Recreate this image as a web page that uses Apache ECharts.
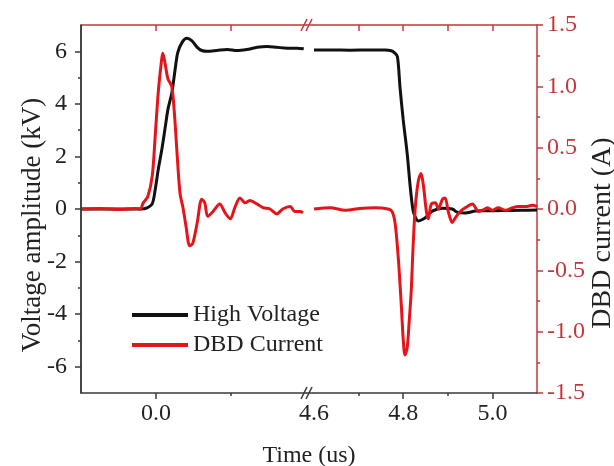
<!DOCTYPE html>
<html>
<head>
<meta charset="utf-8">
<script src="https://cdn.jsdelivr.net/npm/echarts@6.0.0/dist/echarts.min.js"></script>
<style>
html,body{margin:0;padding:0;background:#fff;}
#chart{width:614px;height:466px;}
</style>
</head>
<body>
<div id="chart"></div>
<script>
// ---- Data (time in us, voltage in kV, current in A) ----
// Left segment (before the axis break)
var hvTimeA = [-0.1, -0.06, -0.03, -0.02, -0.012, -0.005, -0.001, 0.003, 0.008, 0.012, 0.016, 0.021, 0.025, 0.029, 0.035, 0.041, 0.048, 0.055, 0.061, 0.068, 0.081, 0.095, 0.108, 0.121, 0.135, 0.148, 0.161, 0.175, 0.188, 0.197];
var hvValA  = [0, 0, 0, 0, 0.04, 0.2, 0.75, 1.5, 2.3, 3.05, 3.8, 4.4, 5.2, 5.95, 6.35, 6.5, 6.4, 6.15, 6.03, 6.0, 6.03, 6.07, 6.03, 6.07, 6.15, 6.18, 6.15, 6.12, 6.12, 6.1];
var curTimeA = [-0.1, -0.075, -0.048, -0.028, -0.021, -0.017, -0.011, -0.005, -0.001, 0.003, 0.007, 0.009, 0.012, 0.016, 0.021, 0.025, 0.028, 0.032, 0.036, 0.040, 0.045, 0.049, 0.055, 0.061, 0.065, 0.069, 0.076, 0.085, 0.092, 0.099, 0.105, 0.112, 0.119, 0.125, 0.135, 0.143, 0.152, 0.161, 0.169, 0.179, 0.185, 0.192, 0.196];
var curValA  = [0, 0.005, -0.005, 0.005, 0.0, 0.05, 0.1, 0.27, 0.6, 0.95, 1.19, 1.27, 1.19, 1.06, 1.0, 0.74, 0.46, 0.13, 0.01, -0.14, -0.3, -0.28, -0.11, 0.08, 0.05, -0.06, -0.02, 0.04, -0.03, -0.08, 0.01, 0.09, 0.05, 0.07, 0.04, 0.01, 0.0, -0.04, 0.0, 0.02, -0.02, -0.02, -0.03];
// Right segment (after the axis break)
var hvTimeB = [4.6, 4.636, 4.681, 4.726, 4.760, 4.773, 4.780, 4.787, 4.793, 4.800, 4.809, 4.816, 4.822, 4.827, 4.834, 4.843, 4.852, 4.865, 4.888, 4.910, 4.921, 4.939, 4.962, 4.984, 5.022, 5.063, 5.1];
var hvValB  = [6.05, 6.05, 6.04, 6.05, 6.05, 6.02, 5.95, 5.8, 4.6, 3.4, 2.1, 0.8, -0.05, -0.3, -0.46, -0.4, -0.3, -0.08, 0.03, 0.0, -0.12, -0.15, -0.08, -0.07, -0.06, -0.05, -0.04];
var curTimeB = [4.6, 4.636, 4.670, 4.703, 4.737, 4.766, 4.775, 4.782, 4.789, 4.796, 4.800, 4.804, 4.809, 4.813, 4.818, 4.822, 4.827, 4.834, 4.840, 4.845, 4.852, 4.856, 4.863, 4.872, 4.879, 4.888, 4.894, 4.901, 4.910, 4.917, 4.928, 4.939, 4.955, 4.969, 4.978, 4.989, 5.0, 5.013, 5.029, 5.045, 5.058, 5.074, 5.090, 5.1];
var curValB  = [0, 0.01, -0.01, 0.005, 0.01, 0.0, -0.02, -0.12, -0.4, -0.8, -1.06, -1.19, -1.13, -0.94, -0.67, -0.32, 0.01, 0.23, 0.29, 0.2, -0.02, -0.08, 0.04, 0.05, 0.0, 0.08, 0.09, -0.02, -0.11, -0.07, -0.02, 0.01, 0.04, -0.02, -0.01, 0.01, -0.01, 0.01, -0.01, 0.01, 0.02, 0.02, 0.03, 0.02];

// Axis ticks / labels
var xLabelsA = [0.0];
var xMinorA = [0.1];
var xTopA = [0.0, 0.1];
var xLabelsB = [4.6, 4.8, 5.0];
var xMajorB = [4.8, 5.0];
var xMinorB = [4.7, 4.9];
var xTopB = [4.7, 4.8, 4.9, 5.0];
var yVLabels = [-6, -4, -2, 0, 2, 4, 6];
var yVMinor = [-5, -3, -1, 1, 3, 5];

var seriesNames = ['High Voltage', 'DBD Current'];

function zip(a, b) { return a.map(function (t, i) { return [t, b[i]]; }); }

var FONT = 'Liberation Serif';
var RED = '#e3151b';
var AXRED = '#c0393b';
var DARK = '#3a3a3a';

var chart = echarts.init(document.getElementById('chart'), null, {renderer: 'canvas'});

function baseX(grid, min, max, pos) {
  return {
    type: 'value', gridIndex: grid, min: min, max: max, interval: 0.1, position: pos,
    splitLine: {show: false}
  };
}
function line(color, show) {
  return {show: show !== false, onZero: false, lineStyle: {color: color, width: 1.5}};
}

var option = {
  animation: false,
  backgroundColor: '#fff',
  grid: [
    {left: 81, top: 25, width: 225, height: 368},
    {left: 314, top: 25, width: 223, height: 368}
  ],
  xAxis: [
    Object.assign(baseX(0, -0.1, 0.2, 'bottom'), {
      axisLine: line(DARK),
      axisTick: {customValues: xLabelsA, length: 6, lineStyle: {color: DARK, width: 1.5}},
      axisLabel: {customValues: xLabelsA, formatter: function (v) { return v.toFixed(1); }, fontFamily: FONT, fontSize: 24, color: '#222', margin: 9}
    }),
    Object.assign(baseX(0, -0.1, 0.2, 'bottom'), {
      axisLine: line(DARK, false),
      axisTick: {customValues: xMinorA, length: 3, lineStyle: {color: DARK, width: 1.5}},
      axisLabel: {show: false}
    }),
    Object.assign(baseX(0, -0.1, 0.2, 'top'), {
      axisLine: line(AXRED),
      axisTick: {customValues: xTopA, inside: true, length: 6, lineStyle: {color: AXRED, width: 1.5}},
      axisLabel: {show: false}
    }),
    Object.assign(baseX(1, 4.6, 5.1, 'bottom'), {
      axisLine: line(DARK),
      axisTick: {customValues: xMajorB, length: 6, lineStyle: {color: DARK, width: 1.5}},
      axisLabel: {customValues: xLabelsB, formatter: function (v) { return v.toFixed(1); }, fontFamily: FONT, fontSize: 24, color: '#222', margin: 9}
    }),
    Object.assign(baseX(1, 4.6, 5.1, 'bottom'), {
      axisLine: line(DARK, false),
      axisTick: {customValues: xMinorB, length: 3, lineStyle: {color: DARK, width: 1.5}},
      axisLabel: {show: false}
    }),
    Object.assign(baseX(1, 4.6, 5.1, 'top'), {
      axisLine: line(AXRED),
      axisTick: {customValues: xTopB, inside: true, length: 6, lineStyle: {color: AXRED, width: 1.5}},
      axisLabel: {show: false}
    })
  ],
  yAxis: [
    {type: 'value', gridIndex: 0, position: 'left', min: -7, max: 7, interval: 1, z: 5,
      splitLine: {show: false},
      axisLine: {show: true, onZero: false, lineStyle: {color: DARK, width: 1.5}},
      axisTick: {show: true, customValues: yVLabels, length: 6, lineStyle: {color: DARK, width: 1.5}},
      axisLabel: {customValues: yVLabels, fontFamily: FONT, fontSize: 24, color: '#222', margin: 14}
    },
    {type: 'value', gridIndex: 0, position: 'left', min: -7, max: 7, interval: 1,
      splitLine: {show: false},
      axisLine: line(DARK, false),
      axisTick: {show: true, customValues: yVMinor, length: 3, lineStyle: {color: DARK, width: 1.5}},
      axisLabel: {show: false}
    },
    {type: 'value', gridIndex: 0, position: 'right', min: -1.5, max: 1.5, show: false,
      axisLine: {show: false, onZero: false}, axisTick: {show: false}, axisLabel: {show: false}, splitLine: {show: false}},
    {type: 'value', gridIndex: 1, position: 'left', min: -7, max: 7, show: false,
      axisLine: {show: false, onZero: false}, axisTick: {show: false}, axisLabel: {show: false}, splitLine: {show: false}},
    {type: 'value', gridIndex: 1, position: 'right', min: -1.5, max: 1.5, interval: 0.5,
      splitLine: {show: false},
      axisLine: line(AXRED),
      axisTick: {show: true, length: 6, lineStyle: {color: AXRED, width: 1.5}},
      minorTick: {show: true, splitNumber: 2, length: 3, lineStyle: {color: AXRED, width: 1.5}},
      axisLabel: {formatter: function (v) { return v.toFixed(1); }, fontFamily: FONT, fontSize: 24, color: AXRED, margin: 10}
    }
  ],
  legend: {
    data: seriesNames.map(function (n) { return {name: n, icon: 'rect'}; }),
    orient: 'vertical', left: 132, top: 303, padding: 0,
    itemWidth: 56, itemHeight: 4, itemGap: 6,
    textStyle: {fontFamily: FONT, fontSize: 24, color: '#222'}
  },
  series: [
    {name: seriesNames[0], type: 'line', xAxisIndex: 0, yAxisIndex: 0, data: zip(hvTimeA, hvValA),
      showSymbol: false, symbol: 'none', smooth: 0.3, color: '#111', lineStyle: {color: '#111', width: 3}},
    {name: seriesNames[0], type: 'line', xAxisIndex: 3, yAxisIndex: 3, data: zip(hvTimeB, hvValB),
      showSymbol: false, symbol: 'none', smooth: 0.3, color: '#111', lineStyle: {color: '#111', width: 3}},
    {name: seriesNames[1], type: 'line', xAxisIndex: 0, yAxisIndex: 2, data: zip(curTimeA, curValA),
      showSymbol: false, symbol: 'none', smooth: 0.3, color: RED, lineStyle: {color: RED, width: 3}},
    {name: seriesNames[1], type: 'line', xAxisIndex: 3, yAxisIndex: 4, data: zip(curTimeB, curValB),
      showSymbol: false, symbol: 'none', smooth: 0.3, color: RED, lineStyle: {color: RED, width: 3}}
  ],
  graphic: [
    // left frame line kept dark on top of everything
    {type: 'line', z: 100, shape: {x1: 81, y1: 25, x2: 81, y2: 393}, style: {stroke: DARK, lineWidth: 1.5}},
    {type: 'line', shape: {x1: 306, y1: 393, x2: 314, y2: 393}, style: {stroke: DARK, lineWidth: 1.5}},
    {type: 'line', shape: {x1: 306, y1: 25, x2: 314, y2: 25}, style: {stroke: AXRED, lineWidth: 1.5}},
    {type: 'line', shape: {x1: 301, y1: 399, x2: 307, y2: 387}, style: {stroke: DARK, lineWidth: 1.5}},
    {type: 'line', shape: {x1: 306, y1: 399, x2: 312, y2: 387}, style: {stroke: DARK, lineWidth: 1.5}},
    {type: 'line', shape: {x1: 301, y1: 31, x2: 307, y2: 19}, style: {stroke: AXRED, lineWidth: 1.5}},
    {type: 'line', shape: {x1: 306, y1: 31, x2: 312, y2: 19}, style: {stroke: AXRED, lineWidth: 1.5}},
    {type: 'text', x: 33, y: 225, rotation: Math.PI / 2,
      style: {text: 'Voltage amplitude (kV)', fontFamily: FONT, fontSize: 27, fill: '#222', align: 'center', verticalAlign: 'middle'}},
    {type: 'text', x: 603, y: 233, rotation: Math.PI / 2,
      style: {text: 'DBD current (A)', fontFamily: FONT, fontSize: 28, fill: '#222', align: 'center', verticalAlign: 'middle'}},
    {type: 'text', x: 309, y: 456,
      style: {text: 'Time (us)', fontFamily: FONT, fontSize: 24, fill: '#222', align: 'center', verticalAlign: 'middle'}}
  ]
};

chart.setOption(option);
</script>
</body>
</html>
